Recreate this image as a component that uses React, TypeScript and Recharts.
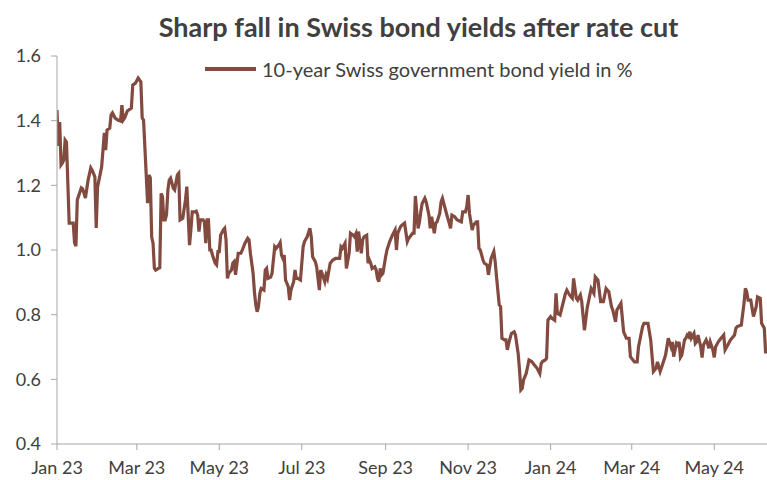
import { Line, LineChart, XAxis, YAxis } from 'recharts';

// days since 1 Jan 2023
const days = [
  0, 1, 2, 3, 4, 5, 6, 7, 9, 12,
  13, 14, 15, 18, 19, 21, 23, 25, 26, 28,
  29, 30, 33, 34, 35, 36, 37, 39, 40, 41,
  43, 45, 47, 48, 49, 50, 52, 55, 56, 58,
  60, 62, 63, 64, 67, 68, 69, 70, 71, 72,
  73, 75, 76, 77, 78, 79, 80, 81, 82, 83,
  84, 86, 87, 89, 90, 91, 93, 95, 96, 98,
  99, 100, 102, 103, 104, 105, 106, 108, 109, 110,
  111, 112, 113, 114, 115, 117, 118, 119, 120, 121,
  123, 124, 125, 126, 127, 129, 130, 131, 132, 134,
  136, 137, 139, 141, 142, 143, 145, 146, 147, 148,
  149, 150, 151, 153, 154, 155, 156, 158, 159, 161,
  162, 164, 165, 166, 167, 168, 169, 171, 172, 173,
  175, 176, 177, 178, 180, 182, 183, 185, 187, 188,
  189, 191, 192, 194, 195, 196, 198, 199, 200, 202,
  204, 206, 208, 209, 210, 211, 213, 214, 216, 217,
  219, 220, 221, 222, 223, 225, 226, 227, 229, 230,
  231, 232, 233, 235, 236, 237, 238, 239, 240, 241,
  243, 244, 246, 248, 250, 251, 252, 254, 255, 257,
  259, 260, 261, 263, 264, 265, 267, 268, 269, 270,
  272, 273, 275, 276, 277, 279, 280, 281, 283, 284,
  285, 286, 288, 289, 290, 291, 292, 294, 296, 299,
  300, 302, 303, 304, 305, 307, 308, 310, 311, 312,
  313, 315, 316, 318, 319, 320, 321, 323, 324, 325,
  327, 328, 329, 331, 332, 333, 334, 336, 338, 339,
  341, 342, 343, 344, 345, 347, 348, 349, 351, 353,
  355, 357, 358, 359, 361, 362, 363, 365, 366, 368,
  369, 370, 372, 376, 377, 379, 381, 382, 384, 385,
  387, 388, 390, 392, 394, 395, 397, 398, 400, 402,
  404, 406, 408, 410, 411, 413, 414, 417, 419, 421,
  423, 424, 427, 429, 430, 433, 434, 437, 439, 441,
  443, 444, 446, 448, 450, 452, 454, 455, 456, 458,
  459, 460, 461, 462, 464, 465, 466, 467, 468, 469,
  471, 472, 473, 474, 476, 477, 478, 480, 481, 482,
  483, 485, 486, 487, 489, 491, 493, 494, 496, 498,
  501, 502, 503, 506, 508, 509, 510, 511, 513, 515,
  517, 518, 520, 521, 523, 524,
];

// 10-year Swiss government bond yield, %
const yields = [
  1.433, 1.322, 1.396, 1.263, 1.269, 1.278, 1.34, 1.334, 1.083, 1.083,
  1.022, 1.012, 1.155, 1.192, 1.189, 1.161, 1.216, 1.254, 1.247, 1.226,
  1.068, 1.195, 1.257, 1.309, 1.362, 1.309, 1.371, 1.377, 1.418, 1.424,
  1.408, 1.402, 1.399, 1.448, 1.402, 1.408, 1.43, 1.439, 1.51, 1.516,
  1.532, 1.52, 1.408, 1.402, 1.145, 1.232, 1.223, 1.04, 1.022, 0.944,
  0.938, 0.943, 0.945, 1.175, 1.165, 1.093, 1.093, 1.11, 1.186, 1.216,
  1.222, 1.191, 1.186, 1.232, 1.237, 1.093, 1.098, 1.155, 1.196, 1.015,
  1.062, 1.118, 1.118, 1.12, 1.108, 1.057, 1.093, 1.093, 1.087, 1.021,
  1.093, 1.093, 1.0, 1.0, 0.984, 0.959, 0.954, 0.995, 0.995, 1.046,
  1.062, 1.067, 1.031, 0.912, 0.928, 0.938, 0.959, 0.964, 0.923, 0.99,
  0.99, 1.0, 1.021, 1.036, 1.031, 0.99, 0.928, 0.87, 0.83, 0.809,
  0.825, 0.866, 0.881, 0.876, 0.938, 0.943, 0.912, 0.916, 0.928, 1.01,
  1.005, 1.015, 1.023, 0.984, 0.974, 0.984, 0.907, 0.887, 0.845, 0.876,
  0.902, 0.938, 0.912, 0.912, 0.907, 1.01, 1.026, 1.041, 1.067, 1.041,
  0.979, 0.964, 0.948, 0.876, 0.938, 0.928, 0.902, 0.923, 0.912, 0.959,
  0.969, 0.974, 0.974, 0.974, 1.01, 1.005, 1.021, 0.943, 0.99, 1.052,
  1.046, 1.041, 1.05, 0.995, 1.057, 0.99, 1.031, 1.041, 1.046, 0.959,
  0.969, 0.959, 0.943, 0.948, 0.938, 0.912, 0.902, 0.943, 0.923, 0.928,
  0.979, 1.0, 1.026, 1.046, 1.062, 1.0, 1.052, 1.072, 1.077, 1.083,
  1.026, 1.036, 1.041, 1.052, 1.052, 1.167, 1.067, 1.087, 1.118, 1.144,
  1.16, 1.149, 1.108, 1.067, 1.103, 1.052, 1.083, 1.087, 1.113, 1.149,
  1.16, 1.144, 1.113, 1.098, 1.083, 1.067, 1.108, 1.103, 1.093, 1.087,
  1.118, 1.118, 1.134, 1.17, 1.113, 1.062, 1.077, 1.087, 1.087, 1.005,
  1.0, 0.969, 0.959, 0.954, 0.923, 0.948, 0.974, 0.995, 0.964, 0.917,
  0.83, 0.825, 0.727, 0.722, 0.722, 0.691, 0.711, 0.742, 0.747, 0.737,
  0.68, 0.629, 0.567, 0.572, 0.598, 0.619, 0.639, 0.66, 0.655, 0.644,
  0.634, 0.618, 0.649, 0.655, 0.66, 0.665, 0.783, 0.794, 0.789, 0.783,
  0.866, 0.804, 0.799, 0.866, 0.876, 0.861, 0.851, 0.912, 0.851, 0.845,
  0.861, 0.84, 0.752, 0.82, 0.861, 0.881, 0.866, 0.917, 0.907, 0.84,
  0.84, 0.881, 0.871, 0.825, 0.814, 0.778, 0.814, 0.835, 0.747, 0.727,
  0.727, 0.67, 0.654, 0.654, 0.701, 0.763, 0.773, 0.773, 0.722, 0.624,
  0.634, 0.654, 0.624, 0.649, 0.675, 0.727, 0.701, 0.716, 0.67, 0.711,
  0.706, 0.716, 0.668, 0.675, 0.722, 0.727, 0.737, 0.732, 0.747, 0.727,
  0.742, 0.711, 0.716, 0.737, 0.701, 0.667, 0.706, 0.722, 0.711, 0.696,
  0.716, 0.691, 0.668, 0.701, 0.716, 0.727, 0.737, 0.691, 0.706, 0.722,
  0.737, 0.758, 0.763, 0.768, 0.835, 0.881, 0.871, 0.845, 0.845, 0.794,
  0.825, 0.855, 0.851, 0.773, 0.758, 0.68,
];

const tickDates = [
  '2023-01-01', '2023-03-01', '2023-05-01', '2023-07-01', '2023-09-01',
  '2023-11-01', '2024-01-01', '2024-03-01', '2024-05-01',
];
const tickLabels = ['Jan 23', 'Mar 23', 'May 23', 'Jul 23', 'Sep 23', 'Nov 23', 'Jan 24', 'Mar 24', 'May 24'];
const yTicks = [0.4, 0.6, 0.8, 1.0, 1.2, 1.4, 1.6];

const title = 'Sharp fall in Swiss bond yields after rate cut';
const seriesName = '10-year Swiss government bond yield in %';

const start = Date.UTC(2023, 0, 1);
const toDay = (iso: string) => Math.round((Date.parse(iso + 'T00:00:00Z') - start) / 86400000);
const tickDays = tickDates.map(toDay);

const data = days.map((d, i) => ({ day: d, value: yields[i] }));

const FONT = 'Lato, "Open Sans", sans-serif';
const TEXT = '#404040';
const AXIS = '#a6a6a6';
const LINE = '#834a3f';

export default function App() {
  return (
    <div style={{ position: 'absolute', left: 0, top: 0, width: 767, height: 480, background: '#fff', fontFamily: FONT }}>
      <div
        style={{
          position: 'absolute', left: 0, width: 767, top: 8, textAlign: 'center',
          paddingLeft: 70, boxSizing: 'border-box',
          fontSize: 27, fontWeight: 700, color: TEXT, lineHeight: '38px',
        }}
      >
        {title}
      </div>
      <div style={{ position: 'absolute', left: 205, top: 56, display: 'flex', alignItems: 'center', color: TEXT, fontSize: 20, lineHeight: '26px' }}>
        <span style={{ display: 'inline-block', width: 51, height: 4, background: LINE, marginRight: 6 }} />
        <span>{seriesName}</span>
      </div>
      <LineChart width={767} height={480} data={data} margin={{ top: 56, right: 0, bottom: 6, left: 0 }}>
        <XAxis
          dataKey="day"
          type="number"
          domain={[0, 525]}
          ticks={tickDays}
          interval={0}
          allowDataOverflow
          tickFormatter={(v: number) => tickLabels[tickDays.indexOf(v)] ?? ''}
          axisLine={{ stroke: AXIS }}
          tickLine={{ stroke: AXIS }}
          tickSize={6}
          tickMargin={11}
          height={30}
          tick={{ fill: TEXT, fontSize: 18, fontFamily: FONT }}
        />
        <YAxis
          domain={[0.4, 1.6]}
          ticks={yTicks}
          interval={0}
          width={57}
          tickFormatter={(v: number) => v.toFixed(1)}
          axisLine={{ stroke: AXIS }}
          tickLine={{ stroke: AXIS }}
          tickSize={6}
          tickMargin={10}
          tick={{ fill: TEXT, fontSize: 18, fontFamily: FONT }}
        />
        <Line
          type="linear"
          dataKey="value"
          name={seriesName}
          stroke={LINE}
          strokeWidth={3.2}
          dot={false}
          isAnimationActive={false}
        />
      </LineChart>
    </div>
  );
}
